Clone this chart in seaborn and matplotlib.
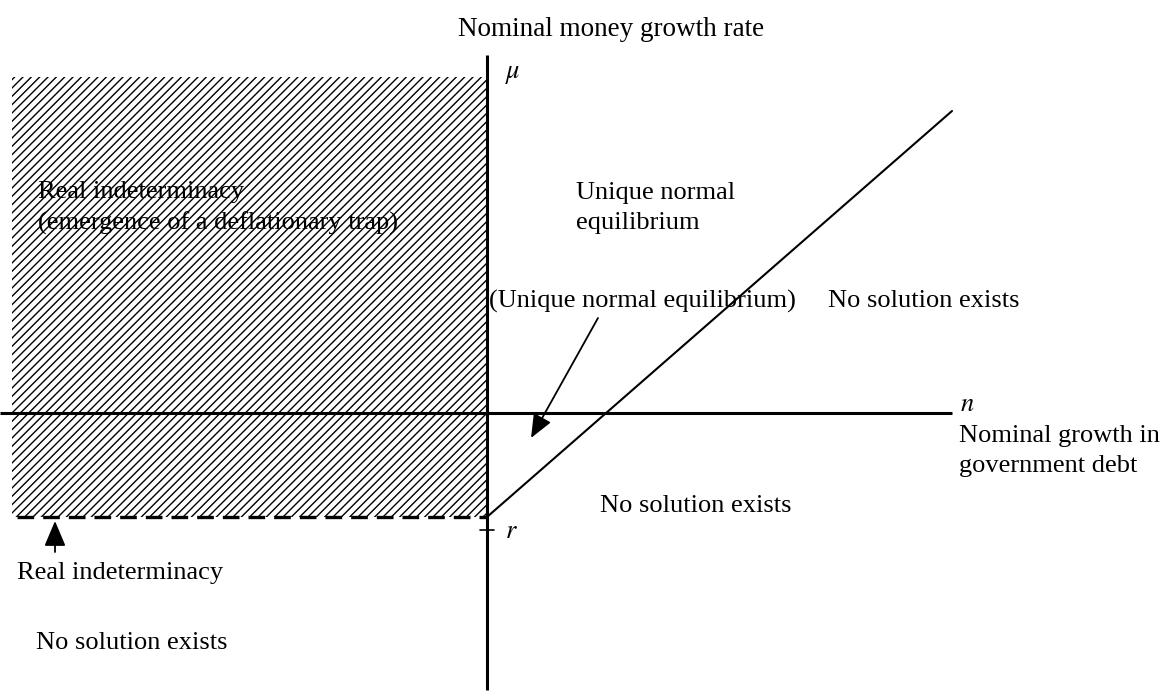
import matplotlib
matplotlib.use("Agg")
import matplotlib.pyplot as plt
import seaborn as sns
import pandas as pd

# ── Diagram data (units: pixels relative to the origin of the n–μ axes) ──
R = 104                       # vertical intercept -r of the boundary line
n_span = [-487, 465]          # horizontal axis extent
mu_span = [-277, 358]         # vertical axis extent
shade_n = [-475, 0]           # real-indeterminacy region (n range)
shade_mu = [-R, 336]          # real-indeterminacy region (mu range)
boundary_n = [0, 465]         # boundary line: mu = slope * n - r
boundary_mu = [-R, 302]
dash_n = [-470, 0]            # dashed line mu = -r for n < 0
dash_mu = [-R, -R]

region_texts = [
    ("Real indeterminacy\n(emergence of a deflationary trap)", -449, 205),
    ("Unique normal\nequilibrium", 89, 205),
    ("(Unique normal equilibrium)", 2, 112),
    ("No solution exists", 341, 112),
    ("No solution exists", 113, -93),
    ("No solution exists", -451, -230),
]

plt.rcParams["hatch.linewidth"] = 1.0
sns.set_theme(style="white")
plt.rcParams["font.family"] = ["Liberation Serif", "DejaVu Serif"]
plt.rcParams["mathtext.fontset"] = "stix"
plt.rcParams["text.color"] = "black"

fig = plt.figure(figsize=(11.74, 6.93), dpi=100)
ax = fig.add_axes([0, 0, 1, 1])
ax.set_xlim(-487, 687)
ax.set_ylim(-280, 413)
ax.axis("off")

# hatched region
ax.fill_between(shade_n, shade_mu[0], shade_mu[1], facecolor="white",
                edgecolor="black", hatch="////", linewidth=0)

# axes
ax.plot(n_span, [0, 0], color="black", lw=2.2, solid_capstyle="butt")
ax.plot([0, 0], mu_span, color="black", lw=2.2, solid_capstyle="butt")
ax.plot([-7, 7], [-117, -117], color="black", lw=1.2)

# boundary line and dashed line
df_b = pd.DataFrame({"n": boundary_n, "mu": boundary_mu})
sns.lineplot(data=df_b, x="n", y="mu", ax=ax, color="black", lw=1.5)
df_d = pd.DataFrame({"n": dash_n, "mu": dash_mu})
sns.lineplot(data=df_d, x="n", y="mu", ax=ax, color="black", lw=2.4,
             linestyle=(0, (5, 2.7)))

# arrows
ax.annotate("", xy=(44, -25), xytext=(111, 95),
            arrowprops=dict(arrowstyle="-|>,head_length=1.2,head_width=0.5",
                            color="black", lw=1.3, shrinkA=0, shrinkB=0))
ax.annotate("", xy=(-432, -108), xytext=(-432, -139),
            arrowprops=dict(arrowstyle="-|>,head_length=1.3,head_width=0.55",
                            color="black", lw=1.3, shrinkA=0, shrinkB=0))

FS = 19
for txt, x, y in region_texts:
    ax.text(x, y, txt, fontsize=FS, ha="left", va="center", linespacing=1.45)

ax.text(124, 383, "Nominal money growth rate", fontsize=19.5, ha="center", va="center")
ax.text(18, 338, r"$\mu$", fontsize=FS, ha="left", va="center")
ax.text(473, 8, r"$n$", fontsize=FS, ha="left", va="center")
ax.text(472, -38, "Nominal growth in\ngovernment debt", fontsize=FS,
        ha="left", va="center", linespacing=1.45)
ax.text(18, -119, r"$r$", fontsize=FS, ha="left", va="center")
ax.text(-470, -160, "Real indeterminacy", fontsize=FS, ha="left", va="center")

fig.savefig("out.png", dpi=100)
